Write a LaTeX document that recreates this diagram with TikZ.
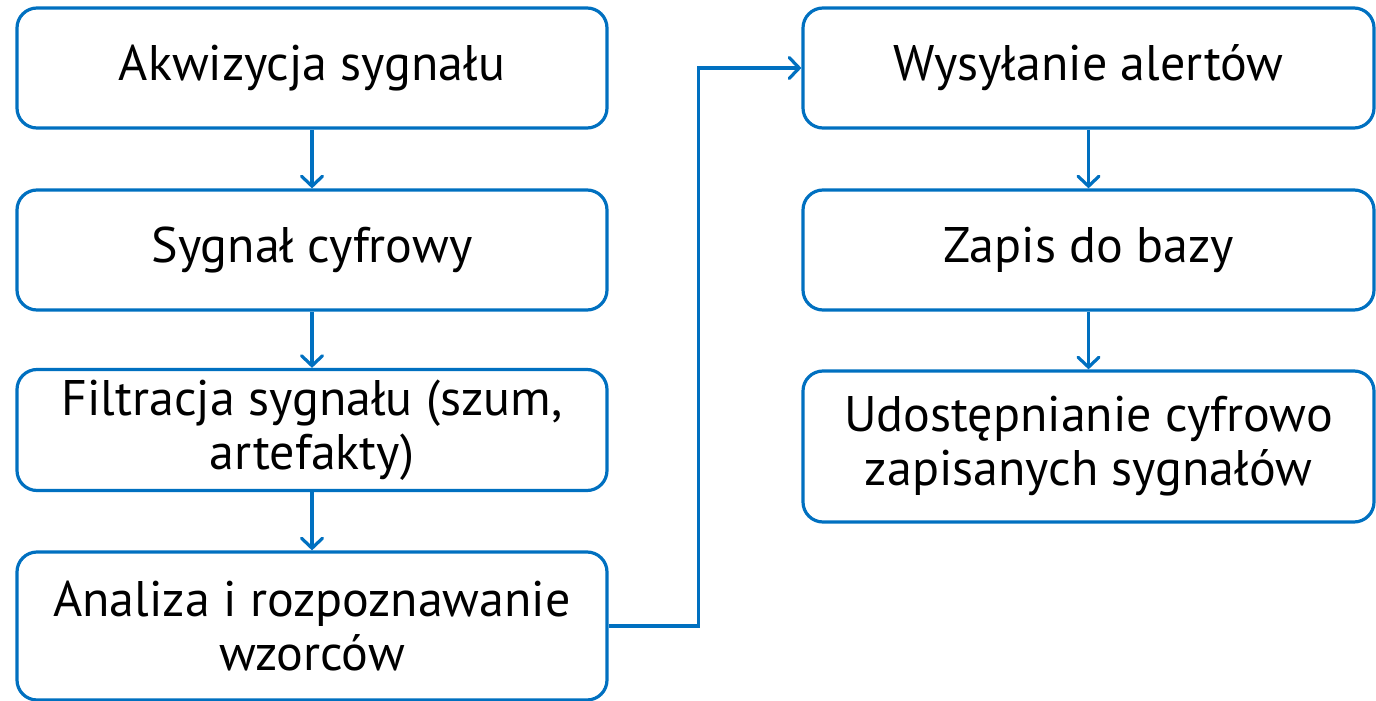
\documentclass[tikz,border=0pt]{standalone}
\usepackage{fontspec}
\setmainfont{PT Sans}
\usetikzlibrary{arrows.meta,positioning}
\definecolor{flowblue}{HTML}{0070C0}
\tikzset{
  stage/.style = {
    draw=flowblue,
    line width=3.2pt,
    rounded corners=20pt,
    align=center,
    inner sep=0pt,
    font=\fontsize{50}{54}\selectfont
  },
  arc/.style = {
    draw=flowblue,
    line width=3.2pt,
    -{Straight Barb[length=10pt,width=21pt,line cap=round]}
  }
}

\begin{document}
\begin{tikzpicture}[x=1pt,y=1pt]
    \useasboundingbox (0,0) rectangle (1376,-701);

    \node[stage, minimum width=590pt, minimum height=120pt] (akwizycja) at (312,-68)  {Akwizycja sygnału};
    \node[stage, minimum width=590pt, minimum height=120pt] (cyfrowy)   at (312,-250) {Sygnał cyfrowy};
    \node[stage, minimum width=590pt, minimum height=121pt] (filtracja) at (312,-430) {Filtracja sygnału (szum,\\artefakty)};
    \node[stage, minimum width=590pt, minimum height=148pt] (analiza)   at (312,-626) {Analiza i rozpoznawanie\\wzorców};

    \node[stage, minimum width=571pt, minimum height=120pt] (alerty)    at (1088.5,-68)  {Wysyłanie alertów};
    \node[stage, minimum width=571pt, minimum height=120pt] (zapis)     at (1088.5,-250) {Zapis do bazy};
    \node[stage, minimum width=571pt, minimum height=151pt] (udostep)   at (1088.5,-446.5) {Udostępnianie cyfrowo\\zapisanych sygnałów};

    \draw[arc] (akwizycja) -- (cyfrowy);
    \draw[arc] (cyfrowy) -- (filtracja);
    \draw[arc] (filtracja) -- (analiza);
    \draw[arc] (analiza.east) -- ++(90,0) |- (alerty.west);
    \draw[arc] (alerty) -- (zapis);
    \draw[arc] (zapis) -- (udostep);
\end{tikzpicture}
\end{document}
